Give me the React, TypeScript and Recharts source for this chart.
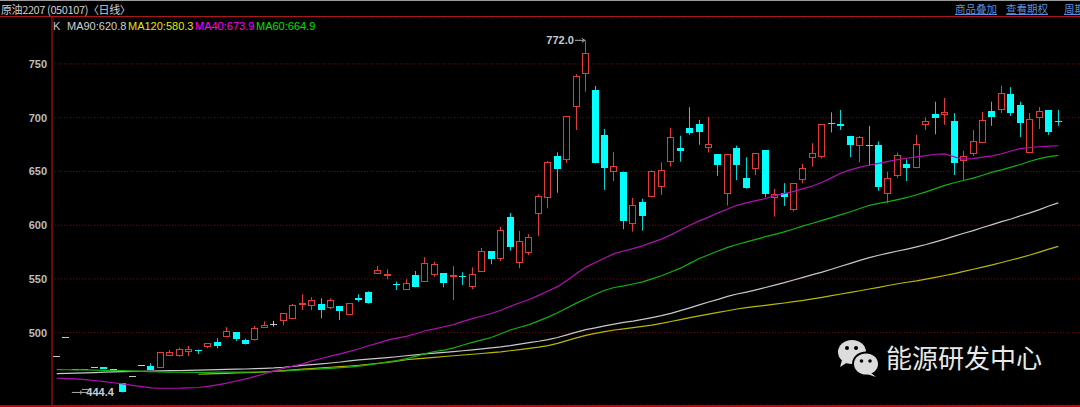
import React from "react";
import {
  ComposedChart,
  Bar,
  Line,
  XAxis,
  YAxis,
  CartesianGrid,
  ReferenceDot,
} from "recharts";

// daily candles, oldest first
const opens = [
  478, 496, 466.5, 466, 468.1, 467.8, 466, 453, 460, 469.7,
  469.3, 467.8, 479.5, 479.5, 483.3, 484.2, 487.9, 491.1, 497.2, 500.4,
  493.2, 493.9, 505, 508.4, 511.8, 513.4, 527, 525.5, 526.5, 523.6,
  524.8, 517.4, 532.6, 537.9, 555.8, 554.2, 545.5, 540.7, 553.2, 547.8,
  554.9, 555.3, 552.8, 552.3, 543.4, 557.4, 575.7, 569.2, 607.4, 566.1,
  575.1, 611.1, 626.5, 664.4, 661.3, 710.9, 741.4, 725.8, 684, 650.2,
  649.9, 601.9, 621.2, 627.2, 636.9, 660.1, 672.2, 690.6, 694, 672.5,
  666, 630.3, 671.5, 643.7, 653.5, 670, 626.5, 630.3, 615.2, 643,
  663.8, 664.4, 695.2, 694.6, 683.1, 674.4, 674.8, 674.6, 630, 646.8,
  656.9, 653.9, 693.9, 703.5, 703.1, 697, 660.7, 667.5, 677.4, 706.5,
  708.4, 722.1, 711.9, 667.8, 700.6, 706.8, 697,
];
const highs = [
  478, 496, 466.5, 466, 468.1, 467.8, 466, 453, 460, 469.7,
  471.5, 481.8, 483.9, 486, 487.6, 484.2, 490.1, 494.8, 505, 500.4,
  494.4, 506.2, 510.6, 510.9, 518, 526.7, 535.7, 533, 532, 532,
  524.8, 527.4, 535.7, 538.5, 562, 559, 547.5, 549.7, 557.4, 570.2,
  566, 555.3, 562, 556.2, 560.8, 578.8, 576, 598.6, 611.4, 594.6,
  591.6, 628.8, 659.7, 667.8, 701.6, 740.4, 772, 729.5, 689.5, 668.1,
  649.9, 625.3, 624.6, 651, 658.5, 690.6, 683.2, 709.8, 698, 700.8,
  666, 666, 674, 663.2, 667, 670, 633.7, 639.1, 639.1, 657,
  676.2, 693.9, 705, 707.2, 683.1, 683, 692.4, 677.8, 649.8, 667.5,
  661.3, 684, 700.4, 714.9, 718.3, 704.3, 669.1, 688.6, 705.4, 714.9,
  729.8, 728.4, 714.9, 704.3, 709.9, 706.8, 707.2,
];
const lows = [
  478, 496, 466.5, 466, 468.1, 466.2, 466, 444.4, 460, 469.7,
  465.3, 467.8, 478.3, 477.7, 478.3, 480.2, 485.5, 485.5, 497.2, 492.3,
  489, 492.6, 505, 505.6, 506.8, 513.4, 521.1, 521, 513.4, 521.8,
  511.8, 517.4, 528.8, 527, 554.6, 549.7, 539.7, 539.7, 542.2, 547.2,
  552, 542.2, 530.4, 544.4, 540.4, 557, 563.6, 566.7, 576.3, 559.9,
  572.3, 590, 615.7, 630.2, 658, 688.6, 724.2, 657.6, 632.8, 641.1,
  596.3, 594, 595, 626, 628.1, 654.5, 659, 684, 674.8, 667.6,
  645.8, 618.2, 641.8, 634, 646.7, 626, 608, 617.9, 612.6, 639,
  654.5, 662, 686.3, 688.6, 663.2, 658.5, 655.2, 632, 620.4, 644,
  641.1, 653, 688.6, 684.6, 693.4, 646.7, 642, 664.4, 677, 692.5,
  704.3, 701.6, 681.9, 667, 689.5, 684, 692.5,
];
const closes = [
  478, 496, 466.5, 466, 468.1, 466.2, 466, 444.4, 460, 469.7,
  465.3, 481.8, 482, 484.6, 485.1, 483.6, 490.1, 487.6, 501.9, 494.4,
  489.5, 504.1, 507.5, 508.4, 518, 525.8, 527.6, 530.2, 520.7, 530,
  519.9, 527.4, 530.4, 527.4, 558.3, 554.5, 544.5, 546.6, 542.8, 565.1,
  564.2, 546, 553.2, 551.6, 554.3, 575.7, 568.6, 595.3, 579.7, 585.6,
  588.8, 627.2, 659.1, 652, 701.6, 739.1, 760, 657.6, 653.6, 655.1,
  604.3, 618.4, 608.8, 650.2, 651.8, 681.9, 669.3, 686.1, 687.1, 675.3,
  656.3, 666, 655.7, 634.4, 666.7, 629, 628.8, 626.5, 639.1, 653.5,
  667, 693.9, 694.4, 692.7, 674.9, 681.6, 674.2, 635.3, 644, 665.7,
  653.2, 675.3, 696.7, 699.8, 705.3, 657.6, 664.2, 678.4, 697.9, 700.6,
  722.7, 704.1, 694.8, 698.5, 706.5, 686.3, 696.3,
];

const ma40 = [
  457.6, 457.3, 457, 456.3, 455.5, 454.5, 453.4, 452.3, 451, 449.8,
  448.7, 448.3, 448.3, 448.4, 448.7, 449, 450, 451.5, 453, 455,
  457, 459.3, 461.8, 464.5, 466.8, 468.8, 471, 473.8, 476, 478.2,
  480.3, 482.6, 485, 487.8, 490.3, 493, 495, 496.5, 499, 501.8,
  503.5, 505.5, 507.5, 510.5, 513, 515.5, 517.8, 520.8, 524.5, 527.8,
  530.8, 534.7, 538.8, 542.8, 548.5, 555, 561, 565.3, 569.5, 573.5,
  576, 578.2, 580.8, 584, 587, 591, 595.5, 600, 604, 607.5,
  611.5, 615, 618.5, 620.8, 622.8, 624.8, 627.5, 629.3, 631.5, 634,
  636.5, 640, 644, 648.5, 651.5, 654, 656, 657.5, 659.3, 661,
  662.3, 663.5, 664.8, 666, 666.3, 663.5, 661.5, 662, 663.3, 664.5,
  666.5, 669, 671.3, 672.3, 673, 673.5, 673.9,
];
const ma60 = [
  465.6, 465.5, 465.4, 465.3, 465.2, 465, 464.8, 464.6, 464.3, 464,
  463.8, 463.5, 463.3, 463.2, 463.1, 463.1, 463.1, 463.2, 463.2, 463.3,
  463.3, 463.4, 463.6, 463.9, 464.3, 464.8, 465.3, 465.8, 466.3, 466.8,
  467.4, 468, 468.8, 470, 471.3, 472.8, 474, 475.8, 478, 480.5,
  482.5, 483.8, 485.8, 488.5, 491, 493.3, 495.5, 499, 502.5, 505,
  507.5, 511, 514.5, 518.5, 523, 527.5, 531.5, 535.8, 539.5, 542,
  543.5, 545.3, 547.3, 550, 553, 556.5, 560, 564.5, 569, 572.5,
  576, 579.3, 582, 584.5, 586.8, 589.3, 591.5, 593.8, 596.5, 599.3,
  601.8, 604.5, 607, 609.8, 612.5, 615.5, 618.5, 620.3, 622, 623.8,
  625.8, 628.3, 631, 634, 637, 639.5, 641.8, 643.8, 646.5, 649.3,
  651.5, 654, 656.5, 659.5, 662, 663.8, 664.9,
];
const ma90 = [
  461.9, 462.1, 462.3, 462.6, 462.9, 463.2, 463.5, 463.7, 463.9, 464,
  464.2, 464.4, 464.6, 464.8, 465, 465.2, 465.4, 465.6, 465.8, 466,
  466.2, 466.5, 466.8, 467.2, 467.8, 468.6, 469.5, 470.3, 471, 471.8,
  472.7, 473.8, 474.6, 475.3, 476, 476.8, 477.6, 478.5, 479.3, 480.2,
  481, 481.7, 482.4, 483.2, 484, 484.9, 485.8, 486.8, 488, 489.4,
  490.8, 492, 493.5, 495.5, 498, 500.5, 502.8, 504.5, 506.3, 508,
  509.5, 510.8, 512.3, 514, 515.8, 518, 520.5, 523, 525.8, 528.5,
  531, 533.8, 536, 537.8, 539.8, 542, 544.3, 546.5, 549, 551.5,
  554, 556.3, 559, 561.8, 564.5, 567.3, 569.8, 572, 574, 576,
  577.8, 579.8, 582, 584.5, 587, 589.8, 592.5, 595, 597.8, 600.5,
  603.3, 605.8, 608.8, 611.5, 614.5, 617.8, 620.8,
];
const ma120 = [
  null, null, null, null, null, null, null, null, null, null,
  null, null, null, null, null, 461.3, 461.6, 461.9, 462.2, 462.5,
  462.8, 463.1, 463.5, 464, 464.6, 465.3, 466, 466.6, 467.2, 467.8,
  468.4, 469, 469.7, 470.5, 471.4, 472.4, 473.6, 474.8, 475.6, 476.3,
  477, 477.8, 478.5, 479.2, 479.9, 480.6, 481.4, 482.2, 483.2, 484.2,
  485.3, 486.5, 488, 490, 492.6, 495.2, 497.5, 499.4, 501, 502.5,
  503.6, 504.7, 505.9, 507.1, 508.6, 510.4, 512.2, 514, 515.7, 517.3,
  518.9, 520.4, 522, 523.3, 524.4, 525.4, 526.5, 527.6, 528.8, 530,
  531.4, 532.9, 534.5, 536, 537.5, 539, 540.6, 542.2, 543.9, 545.5,
  546.9, 548.2, 549.8, 551.5, 553.2, 555, 557, 559, 561, 563,
  565.3, 567.6, 569.8, 572.3, 575, 577.7, 580.3,
];

const yTicks = [500, 550, 600, 650, 700, 750];

const RED = "#e03c3c";
const CYAN = "#00ffff";
const FLAT = "#c8c8c8";

const data = opens.map((o, i) => ({
  i,
  range: [lows[i], highs[i]],
  open: o,
  high: highs[i],
  low: lows[i],
  close: closes[i],
  ma40: ma40[i],
  ma60: ma60[i],
  ma90: ma90[i],
  ma120: ma120[i],
}));

function Candle(props: any) {
  const { x, y, width, height, payload } = props;
  if (x == null || y == null || !payload) return null;
  const { open, close, high, low } = payload;
  const k = Math.floor(x + width / 2);
  const cx = k + 0.5;
  const span = high - low;
  const py = (v: number) => (span > 0 ? y + ((high - v) / span) * height : y);
  const yh = py(high);
  const yl = py(low);
  if (close > open) {
    const top = Math.round(py(close)) + 0.5;
    const bot = Math.round(py(open)) + 0.5;
    return (
      <g>
        <line x1={cx} x2={cx} y1={yh} y2={top} stroke={RED} />
        <line x1={cx} x2={cx} y1={bot} y2={yl} stroke={RED} />
        <rect x={k - 2.5} y={top} width={6} height={Math.max(bot - top, 1)} fill="#000" stroke={RED} />
      </g>
    );
  }
  if (close < open) {
    const top = Math.round(py(open));
    const bot = Math.round(py(close));
    return (
      <g>
        <line x1={cx} x2={cx} y1={yh} y2={yl} stroke="#00d8d8" />
        <rect x={k - 3} y={top} width={7} height={Math.max(bot - top, 1)} fill={CYAN} />
      </g>
    );
  }
  const yy = Math.round(py(open)) + 0.5;
  return (
    <g>
      {span > 0 && <line x1={cx} x2={cx} y1={yh} y2={yl} stroke={FLAT} />}
      <line x1={k - 3} x2={k + 4} y1={yy} y2={yy} stroke={FLAT} />
    </g>
  );
}

function HighMark(props: any) {
  const { cx, cy } = props;
  return (
    <g>
      <text x={cx - 12} y={cy + 4} textAnchor="end" fill="#c8ccd4" fontSize={11} fontWeight={700} fontFamily="Liberation Sans, Arial">
        772.0
      </text>
      <line x1={cx - 11} x2={cx - 1} y1={cy} y2={cy} stroke="#b0b0b0" />
      <path d={`M${cx - 4},${cy - 2} L${cx - 1},${cy} L${cx - 4},${cy + 2}`} stroke="#b0b0b0" fill="none" />
    </g>
  );
}

function LowMark(props: any) {
  const { cx, cy } = props;
  return (
    <g>
      <line x1={cx - 51} x2={cx - 36} y1={cy} y2={cy} stroke="#b0b0b0" />
      <line x1={cx - 42} x2={cx - 42} y1={cy - 2} y2={cy + 2} stroke="#b0b0b0" />
      <line x1={cx - 41} x2={cx - 34} y1={cy - 3} y2={cy - 3} stroke="#b0b0b0" />
      <text x={cx - 9} y={cy + 4} textAnchor="end" fill="#c8ccd4" fontSize={11} fontWeight={700} fontFamily="Liberation Sans, Arial">
        444.4
      </text>
    </g>
  );
}

const abs = (left: number, top: number, extra: React.CSSProperties = {}): React.CSSProperties => ({
  position: "absolute",
  left,
  top,
  whiteSpace: "nowrap",
  ...extra,
});

export default function App() {
  const uiFont = "'Noto Sans CJK SC', 'Liberation Sans', sans-serif";
  const numFont = "'Liberation Sans', Arial, sans-serif";
  return (
    <div
      style={{
        position: "fixed",
        left: 0,
        top: 0,
        width: 1080,
        height: 407,
        background: "#000",
        overflow: "hidden",
      }}
    >
      <ComposedChart
        width={1080}
        height={407}
        data={data}
        margin={{ top: 17, right: 0, bottom: 2, left: 0 }}
      >
        <CartesianGrid vertical={false} stroke="#7a0000" strokeDasharray="1 2" />
        <XAxis dataKey="i" hide padding={{ left: 0, right: 17 }} />
        <YAxis
          domain={[432.7, 793.7]}
          ticks={yTicks}
          allowDataOverflow
          interval={0}
          width={52}
          axisLine={{ stroke: "#6a0808", strokeWidth: 2 }}
          tickLine={false}
          tickSize={0}
          tickMargin={5}
          tick={{ fill: "#bcbcbc", fontSize: 11, fontWeight: 700, fontFamily: numFont }}
        />
        <Bar dataKey="range" barSize={7} shape={<Candle />} isAnimationActive={false} />
        <Line dataKey="ma120" stroke="#b8b800" dot={false} activeDot={false} strokeWidth={1.2} isAnimationActive={false} />
        <Line dataKey="ma90" stroke="#c8c8c8" dot={false} activeDot={false} strokeWidth={1.2} isAnimationActive={false} />
        <Line dataKey="ma60" stroke="#10b010" dot={false} activeDot={false} strokeWidth={1.2} isAnimationActive={false} />
        <Line dataKey="ma40" stroke="#b010b0" dot={false} activeDot={false} strokeWidth={1.2} isAnimationActive={false} />
        <ReferenceDot x={56} y={772} r={0} shape={<HighMark />} ifOverflow="visible" />
        <ReferenceDot x={7} y={444.4} r={0} shape={<LowMark />} ifOverflow="visible" />
      </ComposedChart>

      <div style={abs(0, 0, { width: 1080, height: 1, background: "#9a9a9a" })} />
      <div style={abs(0, 16, { width: 1080, height: 1, background: "#a81818" })} />
      <div style={abs(0, 405, { width: 1080, height: 2, background: "#c80000" })} />

      <div style={abs(1, 2, { fontFamily: uiFont, fontSize: 11, lineHeight: "14px", color: "#cfcfcf", letterSpacing: -0.4 })}>
        原油2207 (050107)〈日线〉
      </div>
      <div style={abs(955, 2, { fontFamily: uiFont, fontSize: 10.5, lineHeight: "14px", color: "#5f8fdc", textDecoration: "underline" })}>
        商品叠加
      </div>
      <div style={abs(1006, 2, { fontFamily: uiFont, fontSize: 10.5, lineHeight: "14px", color: "#5f8fdc", textDecoration: "underline" })}>
        查看期权
      </div>
      <div style={abs(1064, 2, { fontFamily: uiFont, fontSize: 10.5, lineHeight: "14px", color: "#5f8fdc", textDecoration: "underline" })}>
        周期
      </div>

      <div style={abs(53, 19, { fontFamily: numFont, fontSize: 11, lineHeight: "14px", color: "#c8c8c8" })}>K</div>
      <div style={abs(67, 19, { fontFamily: numFont, fontSize: 11, lineHeight: "14px", color: "#d0d0d0" })}>MA90:620.8</div>
      <div style={abs(128, 19, { fontFamily: numFont, fontSize: 11, lineHeight: "14px", color: "#e6e600" })}>MA120:580.3</div>
      <div style={abs(195, 19, { fontFamily: numFont, fontSize: 11, lineHeight: "14px", color: "#ff00ff" })}>MA40:673.9</div>
      <div style={abs(256, 19, { fontFamily: numFont, fontSize: 11, lineHeight: "14px", color: "#00e000" })}>MA60:664.9</div>

      <svg style={abs(836, 338)} width={46} height={40}>
        <ellipse cx={16} cy={14} rx={14} ry={12} fill="#dcdcdc" />
        <path d="M6,22 L4,29 L12,24 Z" fill="#dcdcdc" />
        <circle cx={11} cy={10} r={2} fill="#000" />
        <circle cx={20} cy={10} r={2} fill="#000" />
        <ellipse cx={30} cy={26} rx={13} ry={11.5} fill="#dcdcdc" stroke="#000" strokeWidth={2} />
        <path d="M35,35 L40,39 L31,36 Z" fill="#dcdcdc" />
        <circle cx={25.5} cy={23} r={1.8} fill="#000" />
        <circle cx={34} cy={23} r={1.8} fill="#000" />
      </svg>
      <div style={abs(886, 340, { fontFamily: uiFont, fontSize: 26, lineHeight: "34px", color: "#e8e8e8" })}>
        能源研发中心
      </div>
    </div>
  );
}
